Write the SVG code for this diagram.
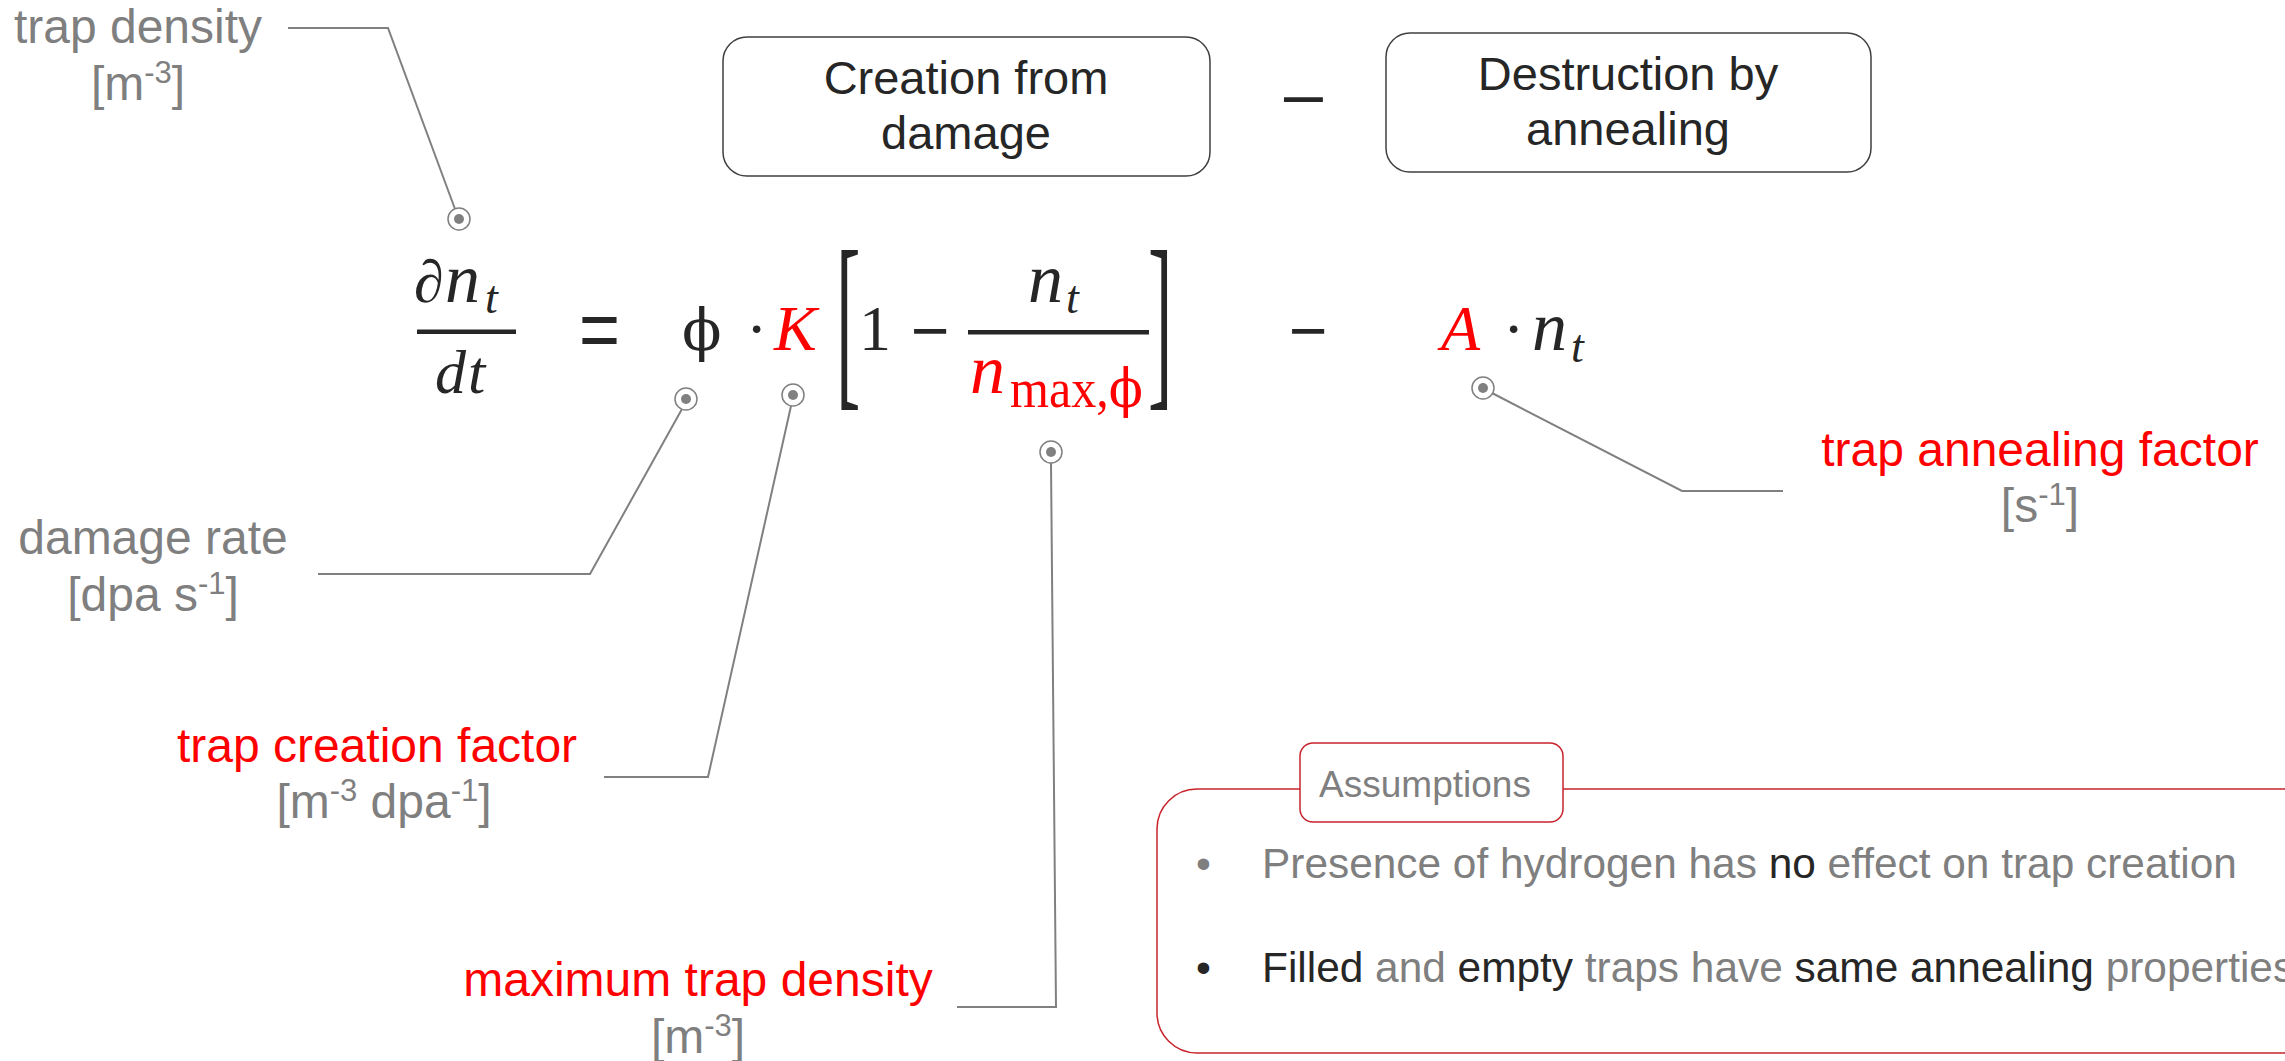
<svg xmlns="http://www.w3.org/2000/svg" width="2285" height="1061" viewBox="0 0 2285 1061">
<style>
  .lbl { font-family: "Liberation Sans", Arial, sans-serif; font-size: 48px; text-anchor: middle; }
  .gray { fill: #7f7f7f; }
  .red { fill: #ff0000; }
  .dark { fill: #262626; }
  .sup { font-size: 31px; }
  .box { fill: #ffffff; stroke: #3f3f3f; stroke-width: 1.5; }
  .boxtxt { font-family: "Liberation Sans", Arial, sans-serif; font-size: 47px; fill: #262626; text-anchor: middle; }
  .mi { font-family: "Liberation Serif", "Times New Roman", serif; font-style: italic; }
  .mr { font-family: "Liberation Serif", "Times New Roman", serif; }
  .ms { font-family: "Liberation Sans", Arial, sans-serif; }
  .leader { fill: none; stroke: #808080; stroke-width: 2; }
  .ring { fill: #ffffff; stroke: #808080; stroke-width: 1.5; }
  .dot { fill: #808080; }
  .abox { fill: #ffffff; stroke: #c8232c; stroke-width: 1.5; }
  .atxt { font-family: "Liberation Sans", Arial, sans-serif; font-size: 42.4px; }
</style>

<!-- header boxes -->
<g id="box-creation">
  <rect class="box" x="723" y="37" width="487" height="139" rx="24"/>
  <text class="boxtxt" x="966" y="94">Creation from</text>
  <text class="boxtxt" x="966" y="149">damage</text>
</g>
<text id="box-minus" class="ms dark" x="1284" y="118" font-size="70">–</text>
<g id="box-destruction">
  <rect class="box" x="1386" y="33" width="485" height="139" rx="24"/>
  <text class="boxtxt" x="1628" y="90">Destruction by</text>
  <text class="boxtxt" x="1628" y="145">annealing</text>
</g>

<!-- equation -->
<g id="equation">
  <text class="mi dark" x="414" y="302" font-size="60">∂</text>
  <text class="mi dark" x="445" y="302" font-size="70">n</text>
  <text class="mi dark" x="485" y="313" font-size="46">t</text>
  <rect class="dark" x="417" y="329.5" width="99" height="4.5"/>
  <text class="mi dark" x="435" y="393" font-size="62">d</text>
  <text class="mi dark" x="468" y="393" font-size="62">t</text>

  <text class="ms dark" x="579" y="358" font-size="84" textLength="41" lengthAdjust="spacingAndGlyphs">=</text>

  <text x="682" y="350" font-size="58" style="font-family:'DejaVu Serif',serif;" class="dark">ϕ</text>
  <text class="mr dark" x="746" y="350" font-size="64">·</text>
  <text class="mi red" x="774" y="350" font-size="64">K</text>

  <text class="mr dark" transform="translate(836,384) scale(1.15,3.0)" font-size="64">[</text>
  <text class="mr dark" x="859" y="350" font-size="64">1</text>
  <text class="ms dark" x="911" y="353" font-size="66">−</text>
  <text class="mi dark" x="1028" y="302" font-size="70">n</text>
  <text class="mi dark" x="1066" y="313" font-size="46">t</text>
  <rect class="dark" x="968" y="330" width="181" height="4.5"/>
  <text class="mi red" x="970" y="393" font-size="70">n</text>
  <text class="mr red" x="1010" y="407" font-size="54" textLength="133" lengthAdjust="spacingAndGlyphs">max,<tspan style="font-family:'DejaVu Serif',serif;">ϕ</tspan></text>
  <text class="mr dark" transform="translate(1148,384) scale(1.15,3.0)" font-size="64">]</text>

  <text class="ms dark" x="1289" y="353" font-size="66">−</text>

  <text class="mi red" x="1441" y="350" font-size="64">A</text>
  <text class="mr dark" x="1503" y="350" font-size="64">·</text>
  <text class="mi dark" x="1532" y="350" font-size="70">n</text>
  <text class="mi dark" x="1571" y="362" font-size="46">t</text>
</g>

<!-- connectors -->
<g id="connectors">
  <polyline class="leader" points="288,28 388,28 455,209"/>
  <polyline class="leader" points="318,574 590,574 682,409"/>
  <polyline class="leader" points="604,777 708,777 791,406"/>
  <polyline class="leader" points="957,1007 1056,1007 1051,463"/>
  <polyline class="leader" points="1783,491 1682,491 1492,393"/>
</g>

<!-- markers -->
<g id="marker-dn">
  <circle class="ring" cx="459" cy="219" r="11"/><circle class="dot" cx="459" cy="219" r="5"/>
</g>
<g id="marker-phi">
  <circle class="ring" cx="686" cy="399" r="11"/><circle class="dot" cx="686" cy="399" r="5"/>
</g>
<g id="marker-K">
  <circle class="ring" cx="793" cy="395" r="11"/><circle class="dot" cx="793" cy="395" r="5"/>
</g>
<g id="marker-nmax">
  <circle class="ring" cx="1051" cy="452" r="11"/><circle class="dot" cx="1051" cy="452" r="5"/>
</g>
<g id="marker-A">
  <circle class="ring" cx="1483" cy="388" r="11"/><circle class="dot" cx="1483" cy="388" r="5"/>
</g>

<!-- labels -->
<g id="label-trap-density">
  <text class="lbl gray" x="138" y="43">trap density</text>
  <text class="lbl gray" x="138" y="100">[m<tspan class="sup" dy="-17">-3</tspan><tspan dy="17">]</tspan></text>
</g>
<g id="label-damage-rate">
  <text class="lbl gray" x="153" y="554">damage rate</text>
  <text class="lbl gray" x="153" y="611">[dpa s<tspan class="sup" dy="-17">-1</tspan><tspan dy="17">]</tspan></text>
</g>
<g id="label-trap-creation">
  <text class="lbl red" x="377" y="762">trap creation factor</text>
  <text class="lbl gray" x="384" y="818">[m<tspan class="sup" dy="-17">-3</tspan><tspan dy="17"> dpa</tspan><tspan class="sup" dy="-17">-1</tspan><tspan dy="17">]</tspan></text>
</g>
<g id="label-max-trap">
  <text class="lbl red" x="698" y="996">maximum trap density</text>
  <text class="lbl gray" x="698" y="1053">[m<tspan class="sup" dy="-17">-3</tspan><tspan dy="17">]</tspan></text>
</g>
<g id="label-annealing">
  <text class="lbl red" x="2040" y="466">trap annealing factor</text>
  <text class="lbl gray" x="2040" y="522">[s<tspan class="sup" dy="-17">-1</tspan><tspan dy="17">]</tspan></text>
</g>

<!-- assumptions -->
<g id="assumptions">
  <rect class="abox" x="1157" y="789" width="1300" height="264" rx="40"/>
  <rect class="abox" x="1300" y="743" width="263" height="79" rx="13"/>
  <text class="gray" x="1425" y="797" font-family="Liberation Sans, Arial, sans-serif" font-size="37" text-anchor="middle">Assumptions</text>
  <text class="atxt gray" x="1196" y="878">•</text>
  <text class="atxt gray" x="1262" y="878">Presence of hydrogen has <tspan class="dark">no</tspan> effect on trap creation</text>
  <text class="atxt dark" x="1196" y="982">•</text>
  <text class="atxt dark" x="1262" y="982">Filled <tspan class="gray">and</tspan> empty <tspan class="gray">traps have</tspan> same annealing <tspan class="gray">properties</tspan></text>
</g>
</svg>
